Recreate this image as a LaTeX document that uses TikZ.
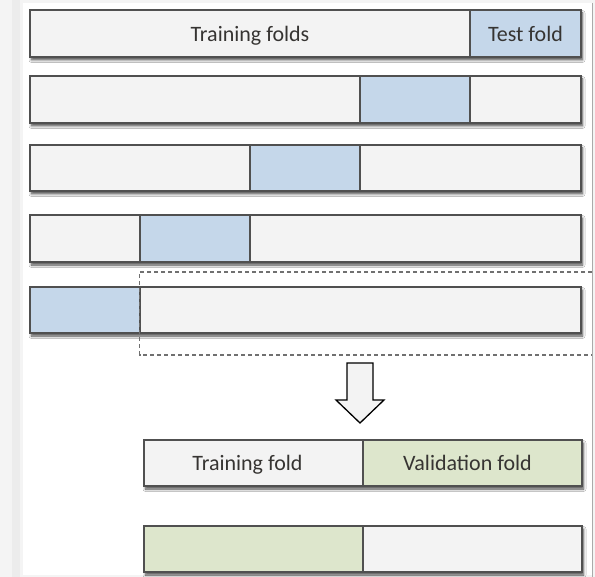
\documentclass[tikz,border=0pt]{standalone}
\usepackage{fontspec}
\setmainfont{Carlito}
\usetikzlibrary{shadows.blur}

\definecolor{segfill}{HTML}{F3F3F3}
\definecolor{testblue}{HTML}{C5D7EA}
\definecolor{valgreen}{HTML}{DDE6CC}
\definecolor{edgegray}{HTML}{505050}
\definecolor{labelgray}{HTML}{363432}
\definecolor{dashgray}{HTML}{707070}
\definecolor{pagegray}{HTML}{F4F4F4}
\definecolor{stripgray}{HTML}{ECECEC}
\definecolor{rulegray}{HTML}{AAAAAA}

\tikzset{
  barshade/.style={draw=edgegray, line width=1.4pt, fill=segfill,
    blur shadow={shadow xshift=1.5pt, shadow yshift=-3pt,
      shadow blur radius=2.5pt, shadow blur steps=6, shadow opacity=70}},
  seg/.style={draw=edgegray, line width=1.1pt, fill=segfill, anchor=north west,
    inner sep=0pt, outer sep=0pt, text=labelgray, text height=19pt, text depth=3pt,
    font=\fontsize{22}{26}\selectfont},
  testseg/.style={seg, fill=testblue},
  valseg/.style={seg, fill=valgreen},
  barframe/.style={draw=edgegray, line width=1.4pt},
  holdout/.style={draw=dashgray, line width=1.3pt, dash pattern=on 4pt off 3pt},
  blockarrow/.style={draw=black, line width=1.3pt, fill=segfill, line join=miter}
}

\begin{document}
\begin{tikzpicture}[x=1pt, y=-1pt]
  \useasboundingbox (0,0) rectangle (595,577);

  % page backdrop and white panel
  \fill[pagegray] (0,0) rectangle (595,577);
  \fill[stripgray] (12,0) rectangle (20,577);
  \fill[white] (23,3) rectangle (592,575);
  \draw[rulegray, line width=1.4pt] (592.7,3) -- (592.7,577);

  % outer test/train splits: shadowed bar bodies
  \foreach \yt/\yb in {10/57, 76/123, 145/191, 215/262, 287/333}{
    \path[barshade] (30,\yt) rectangle (581,\yb);
  }
  \path[barshade] (144,440) rectangle (582,486);
  \path[barshade] (144,526) rectangle (582,572);

  % row 1
  \node[seg, minimum width=440pt, minimum height=47pt] (r1a) at (30,10) {Training folds};
  \node[testseg, minimum width=111pt, minimum height=47pt] (r1b) at (470,10) {Test fold};
  % row 2
  \node[seg, minimum width=330pt, minimum height=47pt] (r2a) at (30,76) {};
  \node[testseg, minimum width=110pt, minimum height=47pt] (r2b) at (360,76) {};
  \node[seg, minimum width=111pt, minimum height=47pt] (r2c) at (470,76) {};
  % row 3
  \node[seg, minimum width=220pt, minimum height=46pt] (r3a) at (30,145) {};
  \node[testseg, minimum width=110pt, minimum height=46pt] (r3b) at (250,145) {};
  \node[seg, minimum width=221pt, minimum height=46pt] (r3c) at (360,145) {};
  % row 4
  \node[seg, minimum width=110pt, minimum height=47pt] (r4a) at (30,215) {};
  \node[testseg, minimum width=110pt, minimum height=47pt] (r4b) at (140,215) {};
  \node[seg, minimum width=331pt, minimum height=47pt] (r4c) at (250,215) {};
  % row 5
  \node[testseg, minimum width=110pt, minimum height=46pt] (r5a) at (30,287) {};
  \node[seg, minimum width=441pt, minimum height=46pt] (r5b) at (140,287) {};

  \foreach \yt/\yb in {10/57, 76/123, 145/191, 215/262, 287/333}{
    \draw[barframe] (30,\yt) rectangle (581,\yb);
  }

  % training part of the last split, marked out with a dashed box
  \draw[holdout] (592,272) -- (139.5,272) -- (139.5,355) -- (592,355);

  % block arrow pointing down
  \draw[blockarrow] (347,363) -- (373,363) -- (373,400) -- (384,400)
    -- (360,423) -- (336,400) -- (347,400) -- cycle;

  % inner train/validation splits
  \node[seg, minimum width=219pt, minimum height=46pt] (v1a) at (144,440) {\hspace*{-12pt}Training fold};
  \node[valseg, minimum width=219pt, minimum height=46pt] (v1b) at (363,440) {\hspace*{-10pt}Validation fold};
  \node[valseg, minimum width=219pt, minimum height=46pt] (v2a) at (144,526) {};
  \node[seg, minimum width=219pt, minimum height=46pt] (v2b) at (363,526) {};
  \draw[barframe] (144,440) rectangle (582,486);
  \draw[barframe] (144,526) rectangle (582,572);
\end{tikzpicture}
\end{document}
